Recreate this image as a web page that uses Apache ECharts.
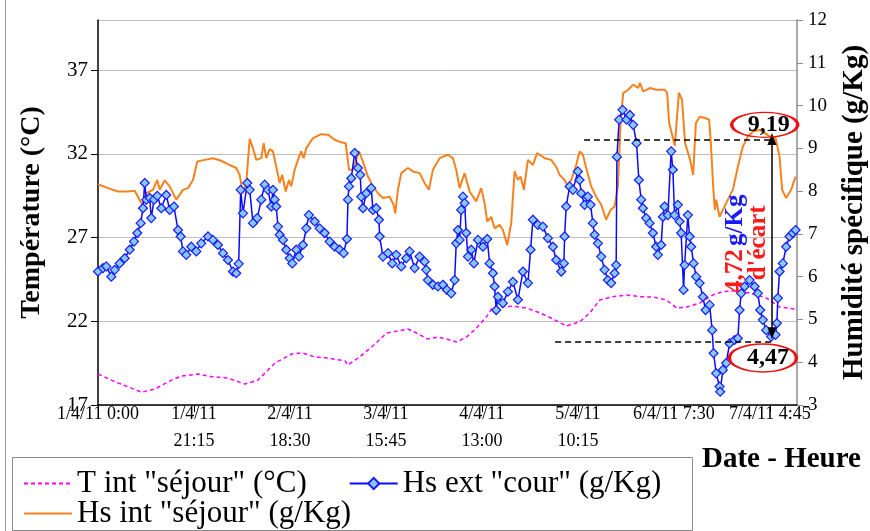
<!DOCTYPE html>
<html><head><meta charset="utf-8">
<script src="https://cdn.jsdelivr.net/npm/echarts@6/dist/echarts.min.js"></script>
<style>html,body{margin:0;padding:0;background:#fff}#c{width:870px;height:531px}</style>
</head><body><div id="c"></div>
<script>
// ---- data (x in hours since 1/4/11 0:00) ----
const xTickLabels = ['1/4/11 0:00','1/4/11\n21:15','2/4/11\n18:30','3/4/11\n15:45','4/4/11\n13:00','5/4/11\n10:15','6/4/11 7:30','7/4/11 4:45'];
const xTickStep = 21.25;
const xMaxHours = 154.75;
const leftTicks = [17, 40, 5];   // min, max, step (°C)
const rightTicks = [3, 12, 1];   // min, max, step (g/Kg)
const seriesNames = ['T int "séjour" (°C)', 'Hs ext "cour" (g/Kg)', 'Hs int "séjour" (g/Kg)'];

const tHours = [0,3.76,6.64,9.67,12.6,16.3,18.5,22.2,25.2,28.8,32.5,35.4,39.2,42.9,45.1,48.0,50.9,54.7,55.3,58.0,60.9,63.9,66.8,68.6,70.5,73.0,75.3,77.2,79.4,81.6,83.8,86.0,87.4,89.6,91.9,94.9,97.9,100.7,103.7,106.7,108.9,111.1,114.0,117.0,120.0,122.9,125.9,128.1,130.3,133.2,136.1,138.3,141.4,144.3,148.0,150.9,154.4];
const tValues = [18.85,18.39,18.09,17.76,17.96,18.49,18.73,18.85,18.69,18.61,18.25,18.49,19.51,20.05,20.12,19.87,19.81,19.63,19.39,19.89,20.54,21.30,21.44,21.54,21.30,20.94,21.06,20.94,20.76,21.06,21.60,22.27,22.85,22.87,22.91,22.79,22.50,22.14,21.72,21.98,22.51,23.27,23.47,23.57,23.47,23.45,23.27,22.79,22.85,23.09,23.57,23.77,23.83,23.69,23.39,22.85,22.73];

const hsIntHours = [0,2.21,4.43,6.64,8.12,8.85,9.81,10.69,12.17,13.13,
13.66,14.76,15.87,17.33,18.81,19.92,21.03,21.98,23.62,25.45,
27.29,29.15,30.61,31.36,32.09,32.82,33.58,34.31,35.04,36.15,
36.68,37.25,38.0,38.73,39.46,40.22,40.79,41.55,42.28,42.78,
43.54,44.27,45.0,45.53,46.1,47.59,49.42,50.91,52.39,53.85,
54.83,55.56,56.44,57.77,58.65,59.76,60.87,61.98,63.08,64.56,
65.45,65.8,66.4,67.13,68.61,69.72,71.2,72.31,73.26,74.15,
75.63,77.47,78.57,79.3,80.06,81.16,82.27,83.73,84.84,85.59,
86.17,87.05,87.8,88.91,89.64,90.59,91.48,92.23,92.96,93.56,
94.29,95.17,96.28,97.23,98.87,100.33,101.44,102.19,103.3,104.03,
104.91,105.87,106.62,107.35,108.08,109.19,110.29,111.4,112.5,113.48,
114.36,115.09,115.69,116.27,117.37,118.48,119.59,119.96,120.7,122.18,
123.66,125.5,126.0,126.45,127.7,128.6,129.3,129.98,131.09,131.76,
132.36,133.24,134.35,135.3,135.68,136.19,136.57,136.85,137.61,138.34,
139.45,140.55,141.66,142.76,143.87,144.97,146.46,147.56,148.67,150.0,
150.88,151.46,152.35,153.45,154.43];
const hsIntValues = [8.16,8.07,7.99,7.99,8.01,7.87,7.68,7.95,8.03,8.26,
8.03,8.25,8.11,7.80,8.03,8.07,8.26,8.69,8.73,8.77,
8.71,8.61,8.54,8.38,7.95,8.19,9.22,9.00,8.73,8.77,
9.12,8.77,8.98,8.93,8.57,8.19,8.38,7.99,8.26,8.11,
8.50,8.73,8.93,8.77,9.00,9.24,9.33,9.32,9.20,9.14,
9.12,8.50,8.50,8.93,8.69,8.34,8.11,7.95,7.84,7.87,
7.68,7.48,8.03,8.42,8.54,8.46,8.42,8.19,8.03,8.50,
8.77,8.85,8.77,8.50,8.07,8.42,7.99,7.76,8.07,7.72,
7.29,7.40,7.13,7.21,7.09,6.74,7.25,8.46,8.26,8.34,
8.03,8.73,8.61,8.89,8.77,8.73,8.57,8.38,8.26,8.11,
8.30,8.61,8.93,8.85,8.54,8.11,7.87,7.68,7.33,7.56,
7.64,8.11,9.59,10.29,10.37,10.49,10.41,10.53,10.33,10.41,
10.37,10.37,10.29,9.59,9.06,10.30,10.13,9.12,8.73,8.38,
9.59,9.74,9.71,9.67,9.12,8.11,7.56,7.80,7.40,7.56,
7.80,8.03,8.57,9.04,9.28,9.39,9.43,9.36,9.28,9.24,
8.81,8.03,7.84,8.03,8.34];

const hsExtHours = [0,1.11,1.84,2.94,3.70,4.80,5.91,7.02,7.97,8.70,
9.45,9.96,10.34,10.69,11.44,11.80,12.40,13.13,14.01,15.12,
15.87,16.82,17.71,18.30,18.81,19.54,20.65,21.76,22.86,24.35,
25.45,26.56,27.67,28.77,29.88,30.61,31.14,31.59,32.09,33.05,
33.58,34.31,35.26,36.15,36.90,37.63,38.36,38.73,39.11,39.46,
39.84,40.22,40.95,41.68,42.43,43.01,43.89,44.49,45.37,46.11,
46.70,47.96,49.07,50.18,51.28,52.39,53.50,54.38,55.11,55.34,
55.56,56.07,56.82,57.55,58.06,58.28,58.66,59.39,60.49,60.87,
61.6,62.2,62.35,63.08,64.19,65.14,66.03,67.13,68.24,68.99,
70.1,71.2,72.31,72.67,73.04,74.15,75.26,76.36,77.25,78.2,
78.95,79.31,79.68,80.06,80.41,80.79,81.16,81.52,81.9,82.63,
83.22,84.11,85.22,86.17,86.7,87.43,87.8,88.16,88.54,89.64,
90.75,91.86,92.96,94.07,95.18,95.77,96.28,97.39,98.5,99.6,
100.71,101.44,102.55,103.14,103.3,103.65,104.41,105.14,106.24,106.62,
106.97,107.73,108.46,109.05,109.56,109.94,110.67,111.4,112.15,112.88,
113.61,114.36,114.72,114.88,115.38,116.13,117.02,117.75,118.48,119.23,
119.74,120.25,120.63,121.36,122.11,122.84,123.57,123.95,124.68,125.06,
125.43,126.16,126.89,127.27,127.64,128.37,128.75,129.1,129.64,129.86,
130.59,130.97,131.32,131.85,132.43,133.18,133.91,134.51,135.4,135.97,
136.28,136.86,137.61,137.74,138.34,139.07,139.83,140.93,141.66,142.04,
142.39,143.14,144.25,145.36,146.09,146.6,147.19,147.92,149.03,150.0,
150.29,150.51,150.89,151.62,152.35,153.1,153.83,154.43];
const hsExtValues = [6.12,6.20,6.24,6.00,6.16,6.31,6.43,6.63,6.82,7.02,
7.25,7.60,8.19,7.80,7.84,7.37,7.80,7.89,7.60,7.91,
7.56,7.64,7.09,6.94,6.59,6.51,6.70,6.59,6.78,6.94,
6.86,6.74,6.55,6.39,6.12,6.08,6.30,8.03,7.48,8.19,
8.03,7.25,7.37,7.80,8.15,8.03,7.64,8.03,7.80,7.64,
7.17,6.98,6.86,6.63,6.43,6.31,6.63,6.47,6.74,7.13,
7.44,7.29,7.13,7.02,6.82,6.70,6.63,6.55,6.88,7.80,
8.11,8.30,8.89,8.54,8.38,7.87,7.60,7.95,8.07,7.56,
7.60,7.33,6.94,6.47,6.55,6.31,6.51,6.24,6.43,6.59,
6.20,6.47,6.35,6.16,5.92,5.81,5.77,5.81,5.69,5.61,
5.92,6.78,7.09,6.86,7.56,7.87,7.72,7.02,6.47,6.63,
6.31,6.86,6.70,6.88,6.31,6.08,5.77,5.22,5.53,5.38,
5.65,5.88,5.46,6.12,5.85,6.63,7.33,7.21,7.17,6.90,
6.70,6.39,6.12,6.31,6.94,7.64,8.11,8.03,8.46,8.26,
7.95,7.68,7.87,7.68,7.25,6.98,6.78,6.47,6.16,5.92,
5.85,6.08,6.27,8.80,9.67,9.90,9.67,9.78,9.55,9.12,
8.26,7.80,7.60,7.37,7.25,7.02,6.70,6.51,6.74,7.40,
7.64,7.44,8.93,8.50,7.44,7.68,7.29,7.02,5.69,6.27,
7.44,6.94,6.70,6.31,6.00,5.85,5.53,5.22,5.34,4.75,
4.21,3.74,3.43,3.31,3.82,3.98,4.44,4.52,4.56,5.22,
5.61,5.77,5.92,5.77,5.61,5.22,4.99,4.75,4.60,4.64,
4.91,5.50,6.12,6.31,6.70,6.94,7.02,7.09];

// annotation values
const annotMax = 9.19, annotMin = 4.47, annotEcart = 4.72;
const annotMaxLineFrom = 107.6, annotMinLineFrom = 101.2, annotAt = 149.2;
const arrowTop = 9.22, arrowBottom = 4.68;
const bubbleMaxPos = [147.6, 9.55], bubbleMinPos = [147.2, 4.10];
const ecartTextPos = [141.2, 6.77], ecartWordPos = [146.2, 6.79];

const fr = v => String(v.toFixed(2)).replace('.', ',');
const zip = (a, b) => a.map((x, i) => [x, b[i]]);
const SERIF = '"Liberation Serif","Times New Roman",serif';
const ellipsePath = 'path://M0 50A50 50 0 1 1 100 50A50 50 0 1 1 0 50Z';
const legendText = {fontFamily: SERIF, fontSize: 31, color: '#000'};

const chart = echarts.init(document.getElementById('c'), null, {renderer: 'canvas'});
chart.setOption({
  animation: false,
  backgroundColor: '#fff',
  grid: {left: 98, right: 73, top: 20, bottom: 126, containLabel: false, outerBoundsMode: 'none'},
  xAxis: {
    type: 'value', min: 0, max: xMaxHours, interval: xTickStep,
    axisLine: {lineStyle: {color: '#000', width: 1.5}},
    axisTick: {length: 7, lineStyle: {color: '#000'}},
    splitLine: {show: false},
    axisLabel: {
      showMaxLabel: false, margin: 0, color: '#000', fontFamily: SERIF, hideOverlap: false,
      formatter: v => {
        const i = Math.round(v / xTickStep);
        if (Math.abs(v - i * xTickStep) > 0.01 || !xTickLabels[i]) return '';
        const p = xTickLabels[i].split('\n');
        return p.length > 1 ? '{a|' + p[0] + '}\n{b|' + p[1] + '}' : '{a|' + p[0] + '}';
      },
      rich: {
        a: {fontSize: 18, lineHeight: 18, fontFamily: SERIF, color: '#000'},
        b: {fontSize: 18, lineHeight: 36, fontFamily: SERIF, color: '#000'}
      }
    }
  },
  yAxis: [{
    type: 'value', min: leftTicks[0], max: leftTicks[1], interval: leftTicks[2],
    position: 'left',
    name: 'Température (°C)', nameLocation: 'middle', nameRotate: 90, nameGap: 52,
    nameTextStyle: {fontFamily: SERIF, fontWeight: 'bold', fontSize: 28, color: '#000'},
    axisLine: {show: true, lineStyle: {color: '#000', width: 1.5}},
    axisTick: {show: true, length: 7, lineStyle: {color: '#000'}},
    axisLabel: {showMaxLabel: false, fontFamily: SERIF, fontSize: 21, color: '#000', margin: 10},
    splitLine: {show: true, lineStyle: {color: '#bdbdbd', width: 1}}
  }, {
    type: 'value', min: rightTicks[0], max: rightTicks[1], interval: rightTicks[2],
    position: 'right',
    name: 'Humidité spécifique (g/Kg)', nameLocation: 'middle', nameRotate: 90, nameGap: 43,
    nameTextStyle: {fontFamily: SERIF, fontWeight: 'bold', fontSize: 29, color: '#000'},
    axisLine: {show: true, lineStyle: {color: '#8c8c8c', width: 1.5}},
    axisTick: {show: true, length: 6, lineStyle: {color: '#8c8c8c'}},
    axisLabel: {fontFamily: SERIF, fontSize: 19, color: '#000', margin: 11},
    splitLine: {show: false}
  }],
  legend: [{
    data: [{name: seriesNames[0], itemStyle: {opacity: 0}}, {name: seriesNames[1]}],
    left: 18, top: 463, itemGap: 42,
    itemWidth: 48, itemHeight: 14, textStyle: legendText
  }, {
    data: [{name: seriesNames[2], itemStyle: {opacity: 0}}], left: 18, top: 493,
    itemWidth: 48, itemHeight: 14, textStyle: legendText
  }],
  graphic: [
    {type: 'line', shape: {x1: 5.5, y1: 0, x2: 5.5, y2: 531}, style: {stroke: '#9a9a9a', lineWidth: 1}, silent: true},
    {type: 'rect', left: 10, top: 455, shape: {width: 680, height: 73}, style: {fill: 'none', stroke: '#8a8a8a', lineWidth: 1}, silent: true},
    {type: 'text', left: 702, top: 445, style: {text: 'Date - Heure', font: 'bold 29px ' + SERIF, fill: '#000'}, silent: true}
  ],
  series: [{
    name: seriesNames[0], type: 'line', yAxisIndex: 0, z: 2,
    data: zip(tHours, tValues), symbol: 'none',
    lineStyle: {color: '#ff00ff', width: 1.5, type: [4, 3]}, itemStyle: {color: '#ff00ff'}
  }, {
    name: seriesNames[1], type: 'line', yAxisIndex: 1, z: 4,
    data: zip(hsExtHours, hsExtValues), symbol: 'diamond', symbolSize: 9, showAllSymbol: true,
    lineStyle: {color: '#0a0aff', width: 1.5},
    itemStyle: {color: '#86c8ee', borderColor: '#1a1aff', borderWidth: 1.2},
    markLine: {
      silent: true, animation: false,
      label: {show: false},
      lineStyle: {color: '#000', width: 1.5, type: 'solid'},
      data: [[
        {coord: [annotAt, arrowTop], symbol: 'triangle', symbolSize: [9, 12]},
        {coord: [annotAt, arrowBottom], symbol: 'triangle', symbolSize: [9, 12]}
      ]]
    },
    markPoint: {
      silent: true, animation: false,
      data: [
        {coord: bubbleMaxPos, symbol: ellipsePath, symbolSize: [66, 25],
          itemStyle: {color: 'rgba(255,255,255,0)', borderColor: '#ee1111', borderWidth: 2.2},
          label: {show: true, position: 'inside', offset: [4, 0], formatter: fr(annotMax), fontFamily: SERIF, fontWeight: 'bold', fontSize: 24, color: '#000'}},
        {coord: bubbleMinPos, symbol: ellipsePath, symbolSize: [67, 28],
          itemStyle: {color: 'rgba(255,255,255,0)', borderColor: '#ee1111', borderWidth: 2.2},
          label: {show: true, position: 'inside', offset: [5, 0], formatter: fr(annotMin), fontFamily: SERIF, fontWeight: 'bold', fontSize: 24, color: '#000'}},
        {coord: ecartTextPos, symbol: 'circle', symbolSize: 1,
          itemStyle: {color: 'rgba(255,255,255,0)'},
          label: {show: true, position: 'inside', rotate: 90, formatter: '{r|' + fr(annotEcart) + '} {b|g/Kg}',
            rich: {r: {fontFamily: SERIF, fontWeight: 'bold', fontSize: 25, color: '#ff1a1a'},
                   b: {fontFamily: SERIF, fontWeight: 'bold', fontSize: 25, color: '#1a1aff'}}}},
        {coord: ecartWordPos, symbol: 'circle', symbolSize: 1,
          itemStyle: {color: 'rgba(255,255,255,0)'},
          label: {show: true, position: 'inside', rotate: 90, formatter: "d'écart",
            fontFamily: SERIF, fontWeight: 'bold', fontSize: 25, color: '#ff1a1a'}}
      ]
    }
  }, {
    name: seriesNames[2], type: 'line', yAxisIndex: 1, z: 3,
    data: zip(hsIntHours, hsIntValues), symbol: 'none',
    lineStyle: {color: '#f5821f', width: 2}, itemStyle: {color: '#f5821f'},
    markLine: {
      silent: true, animation: false, symbol: ['none', 'none'],
      label: {show: false},
      lineStyle: {color: '#000', width: 1.5, type: [6, 4]},
      data: [
        [{coord: [annotMaxLineFrom, annotMax]}, {coord: [annotAt, annotMax]}],
        [{coord: [annotMinLineFrom, annotMin]}, {coord: [annotAt, annotMin]}]
      ]
    }
  }]
});
</script></body></html>
